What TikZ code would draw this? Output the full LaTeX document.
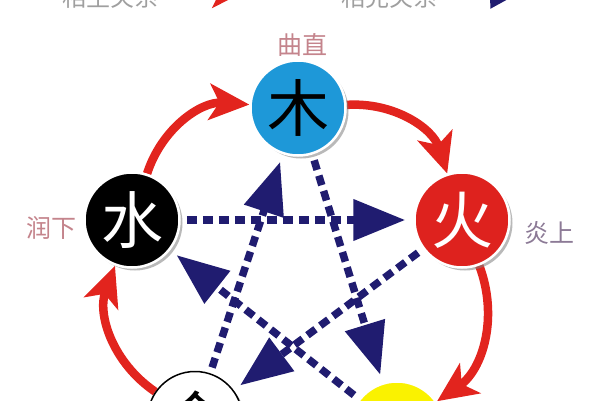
\documentclass[tikz,border=0pt]{standalone}
\usepackage{fontspec}
\newfontfamily\cjk{Noto Sans CJK SC}
\usepackage{xcolor}
\usetikzlibrary{arrows.meta, shadows, backgrounds}

\definecolor{woodblue}{RGB}{30,152,216}
\definecolor{firered}{RGB}{222,34,30}
\definecolor{earthyellow}{RGB}{250,242,0}
\definecolor{shengred}{RGB}{226,36,30}
\definecolor{kenavy}{RGB}{32,28,112}
\definecolor{rosegray}{RGB}{196,132,140}
\definecolor{mauvegray}{RGB}{140,122,150}

\begin{document}
\begin{tikzpicture}[
    x=1pt, y=1pt,
    element/.style={circle, minimum size=95pt, inner sep=0pt, draw=white, line width=2.5pt,
        font=\cjk\fontsize{62}{62}\selectfont,
        drop shadow={shadow xshift=3pt, shadow yshift=-3pt, opacity=0.55}},
    quality/.style={font=\cjk\fontsize{25}{25}\selectfont},
    legend/.style={font=\cjk\fontsize{24}{24}\selectfont, text=gray!75},
    sheng/.style={-{Stealth[length=40pt, width=36pt, inset=10pt]}, line width=8.5pt, draw=shengred, bend left=38},
    ke/.style={-{Triangle[length=52pt, width=40pt]}, line width=7.5pt, draw=kenavy,
        dash pattern=on 10pt off 6pt, shorten >=8pt, shorten <=6pt},
    shengkey/.style={-{Stealth[length=26pt, width=24pt, inset=6pt]}, line width=6pt, draw=shengred},
    kekey/.style={-{Triangle[length=26pt, width=24pt]}, line width=6pt, draw=kenavy, dash pattern=on 9pt off 6pt}
]
    \useasboundingbox (0,0) rectangle (600,400);

    % legend (cut off at the top)
    \node[legend] (shengtext) at (110,403) {相生关系};
    \coordinate (shengtip) at (238,405);
    \draw[shengkey] ([xshift=12pt]shengtext.east) -- (shengtip);
    \node[legend] (ketext) at (389,403) {相克关系};
    \coordinate (ketip) at (516,405);
    \draw[kekey] ([xshift=12pt]ketext.east) -- (ketip);

    % five elements
    \node[element, fill=woodblue, text=black] (wood) at (298,292) {木};
    \node[element, fill=firered, text=white] (fire) at (462,180) {火};
    \node[element, fill=black, text=white] (water) at (132,180) {水};
    \node[element, fill=white, draw=black, line width=1.5pt, text=black] (metal) at (195,-19) {金};
    \node[element, fill=earthyellow, text=black] (earth) at (397,-29) {土};

    % qualities
    \node[quality, text=rosegray] (wood-q) at (302,355) {曲直};
    \node[quality, text=mauvegray] (fire-q) at (549,167) {炎上};
    \node[quality, text=rosegray] (water-q) at (51,172) {润下};

    \begin{scope}[on background layer]
        % generating cycle
        \draw[sheng] (water) to (wood);
        \draw[sheng] (wood) to (fire);
        \draw[sheng] (fire) to (earth);
        \draw[sheng] (earth) to (metal);
        \draw[sheng] (metal) to (water);

        % overcoming cycle
        \draw[ke] (wood) -- (earth);
        \draw[ke] (earth) -- (water);
        \draw[ke] (water) -- (fire);
        \draw[ke] (fire) -- (metal);
        \draw[ke] (metal) -- (wood);
    \end{scope}
\end{tikzpicture}
\end{document}
